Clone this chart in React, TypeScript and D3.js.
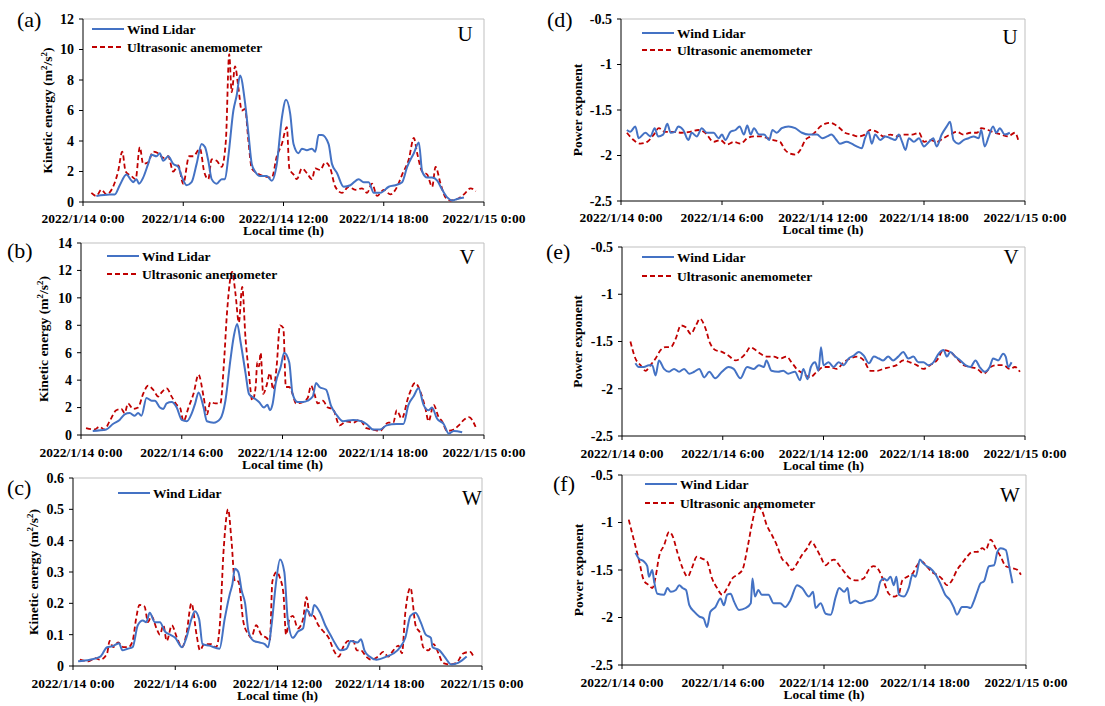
import * as d3 from 'd3';
import React from 'react';

// Series as [hour of 2022/1/14, value] pairs.
const uKeLidar: [number, number][] = [
    [0.8, 0.4], [1.6, 0.5], [1.9, 0.5], [2.2, 1.1], [2.6, 1.8], [2.9, 1.4], [3.0, 1.3], [3.2, 1.5], [3.35, 1.2],
    [3.6, 1.6], [3.9, 2.5], [4.1, 3.1], [4.4, 3.0], [4.6, 3.2], [4.8, 2.7], [5.1, 3.0], [5.4, 2.5], [5.7, 2.3],
    [5.9, 1.7], [6.2, 1.1], [6.5, 1.3], [6.8, 2.5], [7.1, 3.8], [7.3, 3.6], [7.5, 2.7], [7.7, 1.5], [8.0, 1.2],
    [8.3, 1.5], [8.5, 1.5], [8.7, 3.0], [9.0, 6.0], [9.2, 7.0], [9.4, 8.3], [9.7, 6.5], [9.9, 4.5], [10.1, 2.5],
    [10.3, 2.0], [10.6, 1.7], [11.0, 1.7], [11.3, 1.4], [11.6, 2.5], [11.9, 5.5], [12.15, 6.7], [12.4, 5.8],
    [12.6, 3.8], [12.9, 3.2], [13.1, 3.5], [13.4, 3.4], [13.7, 3.5], [13.9, 3.3], [14.1, 4.4], [14.3, 4.4],
    [14.7, 3.8], [14.9, 2.5], [15.2, 1.9], [15.6, 1.0], [16.0, 1.1], [16.5, 1.5], [16.8, 1.3], [17.1, 1.3],
    [17.4, 0.6], [17.8, 0.6], [18.3, 1.0], [18.7, 1.1], [19.1, 1.3], [19.4, 2.3], [19.8, 3.2], [20.1, 3.9],
    [20.3, 2.0], [20.6, 1.6], [20.9, 1.6], [21.2, 1.4], [21.5, 0.8], [21.8, 0.3], [22.1, 0.1], [22.4, 0.2], [22.8, 0.3],
];
const uKeSonic: [number, number][] = [
    [0.5, 0.6], [0.8, 0.4], [1.1, 0.8], [1.4, 0.5], [1.8, 1.0], [2.1, 2.0], [2.35, 3.3], [2.55, 2.0], [2.9, 1.7],
    [3.15, 1.5], [3.4, 3.6], [3.6, 2.5], [3.9, 2.6], [4.2, 3.3], [4.5, 3.2], [4.8, 2.9], [5.1, 3.0], [5.4, 2.0],
    [5.7, 2.4], [6.0, 1.2], [6.35, 3.0], [6.6, 3.0], [7.0, 3.5], [7.25, 2.0], [7.5, 1.5], [7.7, 2.8], [8.0, 2.7],
    [8.3, 2.3], [8.55, 4.0], [8.75, 9.7], [8.9, 7.2], [9.1, 8.9], [9.3, 7.5], [9.5, 6.0], [9.7, 6.1], [9.9, 4.0],
    [10.1, 2.2], [10.4, 1.9], [10.8, 1.7], [11.3, 1.6], [11.6, 3.0], [11.9, 3.8], [12.2, 4.9], [12.35, 2.2],
    [12.6, 1.8], [12.8, 1.5], [13.1, 2.2], [13.4, 1.9], [13.7, 1.5], [13.9, 2.2], [14.2, 2.1], [14.5, 2.6],
    [14.8, 2.2], [15.1, 1.0], [15.5, 0.6], [15.9, 1.0], [16.3, 0.8], [16.7, 0.9], [17.0, 0.6], [17.3, 1.2],
    [17.6, 0.4], [18.0, 0.8], [18.4, 0.5], [18.8, 1.0], [19.1, 1.8], [19.5, 2.8], [19.8, 4.2], [20.0, 3.2],
    [20.3, 2.0], [20.6, 1.8], [20.9, 1.0], [21.1, 2.3], [21.4, 1.2], [21.7, 0.3], [22.0, 0.1], [22.4, 0.2],
    [22.8, 0.5], [23.2, 0.9], [23.5, 0.7],
];
const vKeLidar: [number, number][] = [
    [0.7, 0.3], [1.5, 0.4], [1.9, 0.8], [2.3, 1.1], [2.6, 1.5], [2.9, 1.6], [3.2, 1.4], [3.4, 1.6], [3.6, 1.4],
    [3.9, 2.7], [4.2, 2.5], [4.4, 2.5], [4.7, 2.0], [4.9, 1.9], [5.1, 2.3], [5.4, 2.4], [5.7, 2.0], [6.0, 1.1],
    [6.3, 1.0], [6.6, 1.6], [6.8, 2.3], [7.0, 3.1], [7.3, 2.0], [7.5, 1.0], [7.9, 0.9], [8.3, 1.2], [8.6, 2.5],
    [8.9, 5.5], [9.1, 7.2], [9.3, 8.1], [9.5, 6.8], [9.8, 4.5], [10.0, 3.0], [10.3, 2.7], [10.6, 2.4], [10.9, 2.0],
    [11.1, 2.2], [11.25, 1.8], [11.4, 2.2], [11.6, 3.8], [11.9, 5.0], [12.1, 6.0], [12.4, 5.3], [12.6, 3.0],
    [12.9, 2.4], [13.2, 2.4], [13.5, 2.5], [13.8, 2.8], [14.0, 3.8], [14.2, 3.5], [14.6, 3.3], [14.9, 2.1],
    [15.2, 1.5], [15.6, 1.0], [16.2, 1.1], [16.7, 1.0], [17.0, 0.8], [17.4, 0.4], [17.8, 0.4], [18.2, 0.7],
    [18.8, 0.8], [19.2, 0.8], [19.5, 2.2], [19.8, 2.8], [20.1, 3.4], [20.4, 2.2], [20.7, 1.8], [20.9, 2.0],
    [21.2, 1.2], [21.6, 0.8], [21.9, 0.1], [22.2, 0.3], [22.7, 0.2],
];
const vKeSonic: [number, number][] = [
    [0.3, 0.5], [0.8, 0.4], [1.1, 0.6], [1.4, 0.4], [1.7, 1.0], [2.1, 1.8], [2.4, 1.9], [2.6, 1.6], [2.8, 2.3],
    [3.1, 1.9], [3.4, 2.0], [3.7, 3.0], [4.0, 3.6], [4.3, 3.3], [4.6, 2.8], [4.8, 3.1], [5.1, 3.4], [5.4, 2.8],
    [5.7, 2.2], [5.9, 2.0], [6.1, 1.0], [6.4, 2.0], [6.7, 3.0], [7.0, 4.4], [7.3, 2.8], [7.5, 1.5], [7.7, 2.4],
    [8.0, 2.3], [8.3, 2.3], [8.5, 5.0], [8.7, 9.0], [9.0, 11.9], [9.2, 10.3], [9.4, 8.2], [9.6, 10.8], [9.8, 7.0],
    [10.0, 4.5], [10.2, 2.5], [10.4, 3.5], [10.5, 5.3], [10.6, 5.0], [10.7, 6.0], [10.85, 3.0], [11.05, 3.6],
    [11.25, 4.5], [11.45, 3.3], [11.65, 5.0], [11.85, 8.0], [12.05, 7.8], [12.2, 3.5], [12.4, 3.5], [12.6, 3.0],
    [12.8, 2.3], [13.2, 2.4], [13.5, 2.7], [13.7, 3.6], [13.9, 3.0], [14.1, 2.3], [14.4, 2.5], [14.7, 2.0],
    [15.0, 1.9], [15.4, 0.7], [15.8, 1.0], [16.2, 0.9], [16.6, 1.1], [17.0, 0.5], [17.4, 0.4], [17.8, 0.3],
    [18.3, 0.9], [18.6, 0.9], [18.8, 1.8], [19.1, 1.2], [19.5, 2.8], [19.9, 3.8], [20.2, 3.2], [20.5, 2.0],
    [20.7, 1.0], [21.0, 2.2], [21.3, 1.3], [21.5, 1.0], [21.8, 0.3], [22.2, 0.4], [22.5, 0.7], [22.8, 1.1],
    [23.1, 1.3], [23.5, 0.6],
];
const wKeLidar: [number, number][] = [
    [0.3, 0.015], [1.0, 0.02], [1.6, 0.03], [2.0, 0.06], [2.3, 0.063], [2.7, 0.073], [2.9, 0.05], [3.2, 0.055],
    [3.5, 0.06], [3.8, 0.13], [4.1, 0.145], [4.3, 0.14], [4.5, 0.17], [4.8, 0.14], [5.1, 0.14], [5.4, 0.11],
    [5.7, 0.1], [6.0, 0.09], [6.4, 0.06], [6.65, 0.09], [6.95, 0.15], [7.15, 0.175], [7.4, 0.15], [7.6, 0.07],
    [8.0, 0.065], [8.6, 0.055], [8.9, 0.15], [9.2, 0.23], [9.35, 0.26], [9.5, 0.31], [9.7, 0.3], [9.9, 0.24],
    [10.1, 0.2], [10.3, 0.11], [10.6, 0.08], [10.95, 0.075], [11.25, 0.07], [11.45, 0.06], [11.65, 0.13],
    [11.9, 0.26], [12.15, 0.34], [12.4, 0.3], [12.6, 0.15], [12.9, 0.09], [13.2, 0.11], [13.5, 0.12], [13.7, 0.18],
    [14.0, 0.16], [14.15, 0.195], [14.5, 0.17], [14.8, 0.13], [15.1, 0.1], [15.4, 0.07], [15.7, 0.05],
    [16.05, 0.055], [16.3, 0.08], [16.7, 0.075], [16.9, 0.085], [17.1, 0.05], [17.4, 0.03], [17.8, 0.02],
    [18.4, 0.03], [18.8, 0.04], [19.2, 0.06], [19.5, 0.09], [19.8, 0.16], [20.1, 0.17], [20.4, 0.14], [20.7, 0.1],
    [21.0, 0.09], [21.1, 0.06], [21.5, 0.05], [21.8, 0.03], [22.2, 0.005], [22.6, 0.01], [23.1, 0.03],
];
const wKeSonic: [number, number][] = [
    [0.4, 0.02], [0.9, 0.015], [1.3, 0.025], [1.6, 0.02], [2.0, 0.04], [2.15, 0.08], [2.35, 0.06], [2.65, 0.075],
    [2.95, 0.06], [3.25, 0.06], [3.5, 0.08], [3.7, 0.15], [3.9, 0.195], [4.2, 0.19], [4.4, 0.14], [4.6, 0.16],
    [4.9, 0.12], [5.1, 0.1], [5.3, 0.13], [5.5, 0.08], [5.8, 0.13], [6.1, 0.09], [6.4, 0.06], [6.65, 0.1],
    [6.95, 0.2], [7.25, 0.1], [7.45, 0.05], [7.7, 0.07], [8.1, 0.07], [8.4, 0.06], [8.6, 0.12], [8.85, 0.38],
    [9.1, 0.5], [9.3, 0.4], [9.5, 0.27], [9.7, 0.27], [10.0, 0.14], [10.3, 0.1], [10.45, 0.09], [10.75, 0.13],
    [11.05, 0.1], [11.35, 0.09], [11.55, 0.08], [11.7, 0.27], [11.95, 0.3], [12.15, 0.28], [12.35, 0.23],
    [12.5, 0.1], [12.7, 0.15], [12.9, 0.16], [13.2, 0.12], [13.5, 0.15], [13.7, 0.22], [13.9, 0.16], [14.1, 0.16],
    [14.4, 0.13], [14.7, 0.11], [15.0, 0.09], [15.3, 0.05], [15.6, 0.03], [15.85, 0.06], [16.15, 0.08],
    [16.45, 0.08], [16.65, 0.05], [16.9, 0.05], [17.2, 0.03], [17.5, 0.02], [17.9, 0.03], [18.2, 0.045],
    [18.5, 0.03], [18.8, 0.05], [19.1, 0.065], [19.3, 0.04], [19.5, 0.17], [19.8, 0.25], [20.1, 0.13],
    [20.4, 0.1], [20.55, 0.06], [20.85, 0.05], [21.15, 0.07], [21.45, 0.04], [21.7, 0.01], [22.1, 0.005],
    [22.5, 0.01], [22.9, 0.04], [23.3, 0.045], [23.5, 0.03],
];
const uExpLidar: [number, number][] = [
    [0.35, -1.72], [0.55, -1.74], [0.85, -1.68], [1.05, -1.81], [1.45, -1.75], [1.75, -1.79], [2.0, -1.7],
    [2.2, -1.79], [2.5, -1.77], [2.75, -1.65], [2.95, -1.75], [3.2, -1.74], [3.4, -1.68], [3.7, -1.72],
    [4.0, -1.83], [4.2, -1.75], [4.5, -1.79], [4.8, -1.7], [5.1, -1.75], [5.5, -1.75], [5.8, -1.81], [6.0, -1.77],
    [6.2, -1.83], [6.5, -1.74], [6.8, -1.72], [7.05, -1.68], [7.3, -1.77], [7.5, -1.67], [7.7, -1.77],
    [7.9, -1.7], [8.2, -1.77], [8.5, -1.77], [8.8, -1.83], [9.0, -1.72], [9.25, -1.75], [9.55, -1.7],
    [9.95, -1.68], [10.35, -1.7], [10.75, -1.75], [11.15, -1.77], [11.65, -1.77], [11.95, -1.81], [12.25, -1.79],
    [12.5, -1.77], [12.8, -1.83], [13.0, -1.87], [13.4, -1.85], [13.7, -1.87], [14.0, -1.9], [14.3, -1.92],
    [14.5, -1.81], [14.7, -1.74], [14.9, -1.87], [15.1, -1.77], [15.4, -1.83], [15.7, -1.79], [16.0, -1.81],
    [16.3, -1.83], [16.5, -1.77], [16.7, -1.85], [16.9, -1.94], [17.1, -1.81], [17.4, -1.85], [17.7, -1.81],
    [18.0, -1.9], [18.3, -1.85], [18.55, -1.81], [18.75, -1.9], [19.05, -1.77], [19.35, -1.68], [19.55, -1.63],
    [19.75, -1.83], [20.05, -1.87], [20.35, -1.83], [20.65, -1.81], [20.95, -1.79], [21.25, -1.81],
    [21.4, -1.72], [21.6, -1.9], [21.85, -1.79], [22.1, -1.68], [22.3, -1.75], [22.5, -1.7], [22.8, -1.77],
    [23.1, -1.75],
];
const uExpSonic: [number, number][] = [
    [0.35, -1.75], [0.75, -1.83], [1.15, -1.87], [1.55, -1.85], [1.95, -1.77], [2.25, -1.7], [2.6, -1.74],
    [3.1, -1.74], [3.6, -1.75], [4.1, -1.74], [4.6, -1.72], [5.0, -1.75], [5.5, -1.85], [5.9, -1.83],
    [6.3, -1.88], [6.7, -1.85], [7.1, -1.87], [7.5, -1.81], [7.9, -1.79], [8.3, -1.79], [8.7, -1.81],
    [9.05, -1.83], [9.45, -1.85], [9.75, -1.94], [10.05, -1.98], [10.35, -1.99], [10.65, -1.94], [10.95, -1.83],
    [11.25, -1.79], [11.55, -1.74], [11.85, -1.68], [12.15, -1.65], [12.4, -1.64], [12.7, -1.66], [13.0, -1.7],
    [13.3, -1.75], [13.7, -1.77], [14.1, -1.79], [14.5, -1.77], [14.8, -1.72], [15.2, -1.74], [15.6, -1.79],
    [16.0, -1.77], [16.4, -1.79], [16.8, -1.77], [17.3, -1.77], [17.7, -1.75], [18.0, -1.85], [18.4, -1.83],
    [18.75, -1.85], [19.15, -1.81], [19.55, -1.77], [19.95, -1.74], [20.35, -1.77], [20.75, -1.75],
    [21.15, -1.75], [21.4, -1.7], [21.8, -1.72], [22.2, -1.75], [22.6, -1.77], [23.0, -1.79], [23.4, -1.75],
    [23.6, -1.83],
];
const vExpLidar: [number, number][] = [
    [0.8, -1.73], [1.0, -1.77], [1.3, -1.77], [1.6, -1.75], [1.8, -1.75], [2.0, -1.86], [2.2, -1.7], [2.5, -1.79],
    [2.8, -1.82], [3.1, -1.79], [3.4, -1.82], [3.7, -1.79], [4.0, -1.84], [4.3, -1.82], [4.6, -1.79],
    [4.9, -1.88], [5.2, -1.82], [5.55, -1.89], [5.95, -1.82], [6.35, -1.77], [6.65, -1.79], [7.05, -1.89],
    [7.45, -1.77], [7.85, -1.79], [8.15, -1.75], [8.45, -1.77], [8.6, -1.7], [8.9, -1.81], [9.3, -1.82],
    [9.6, -1.81], [9.9, -1.84], [10.3, -1.82], [10.6, -1.91], [10.8, -1.79], [11.05, -1.9], [11.25, -1.77],
    [11.5, -1.72], [11.7, -1.81], [11.85, -1.56], [12.0, -1.75], [12.3, -1.72], [12.6, -1.77], [12.9, -1.72],
    [13.2, -1.75], [13.5, -1.68], [13.8, -1.65], [14.1, -1.61], [14.4, -1.65], [14.7, -1.73], [15.0, -1.66],
    [15.3, -1.68], [15.55, -1.7], [15.85, -1.66], [16.15, -1.7], [16.45, -1.66], [16.75, -1.61], [17.05, -1.68],
    [17.35, -1.66], [17.65, -1.72], [17.95, -1.72], [18.25, -1.75], [18.55, -1.72], [18.85, -1.63],
    [19.15, -1.59], [19.35, -1.66], [19.55, -1.61], [19.85, -1.66], [20.15, -1.7], [20.45, -1.75],
    [20.75, -1.77], [21.05, -1.7], [21.3, -1.77], [21.6, -1.82], [21.9, -1.77], [22.1, -1.68], [22.4, -1.7],
    [22.7, -1.63], [22.85, -1.66], [23.0, -1.77], [23.2, -1.72],
];
const vExpSonic: [number, number][] = [
    [0.5, -1.5], [0.8, -1.68], [1.1, -1.75], [1.4, -1.81], [1.7, -1.75], [2.0, -1.68], [2.3, -1.59],
    [2.6, -1.56], [2.9, -1.56], [3.2, -1.47], [3.5, -1.33], [3.8, -1.35], [4.1, -1.42], [4.4, -1.33],
    [4.65, -1.26], [4.95, -1.35], [5.25, -1.52], [5.55, -1.59], [5.95, -1.61], [6.35, -1.65], [6.75, -1.7],
    [7.05, -1.68], [7.35, -1.63], [7.65, -1.56], [7.95, -1.59], [8.25, -1.63], [8.65, -1.66], [9.05, -1.66],
    [9.4, -1.68], [9.8, -1.66], [10.1, -1.72], [10.4, -1.79], [10.8, -1.84], [11.2, -1.88], [11.6, -1.82],
    [12.0, -1.77], [12.4, -1.77], [12.8, -1.79], [13.2, -1.72], [13.6, -1.68], [14.0, -1.66], [14.4, -1.7],
    [14.8, -1.81], [15.2, -1.81], [15.55, -1.79], [16.0, -1.77], [16.35, -1.75], [16.75, -1.7], [17.15, -1.72],
    [17.55, -1.75], [17.95, -1.79], [18.35, -1.75], [18.75, -1.7], [19.15, -1.59], [19.55, -1.61],
    [19.95, -1.68], [20.35, -1.75], [20.75, -1.77], [21.15, -1.79], [21.55, -1.84], [21.95, -1.77],
    [22.3, -1.75], [22.7, -1.75], [23.1, -1.79], [23.4, -1.77], [23.7, -1.82],
];
const wExpLidar: [number, number][] = [
    [0.8, -1.32], [1.0, -1.38], [1.3, -1.41], [1.5, -1.46], [1.6, -1.57], [1.8, -1.5], [1.9, -1.61],
    [2.1, -1.75], [2.5, -1.76], [2.7, -1.69], [2.9, -1.73], [3.2, -1.71], [3.4, -1.66], [3.6, -1.69],
    [3.8, -1.71], [4.0, -1.87], [4.3, -1.94], [4.6, -1.99], [4.85, -2.01], [5.05, -2.1], [5.25, -1.94],
    [5.55, -1.89], [5.85, -1.8], [6.05, -1.87], [6.25, -1.76], [6.45, -1.75], [6.65, -1.83], [6.95, -1.92],
    [7.35, -1.9], [7.65, -1.85], [7.75, -1.59], [7.9, -1.78], [8.1, -1.71], [8.3, -1.76], [8.7, -1.76],
    [9.0, -1.85], [9.4, -1.85], [9.7, -1.89], [10.0, -1.82], [10.4, -1.66], [10.7, -1.69], [11.1, -1.78],
    [11.35, -1.73], [11.5, -1.9], [11.8, -1.85], [12.1, -1.96], [12.4, -1.97], [12.7, -1.78], [12.9, -1.69],
    [13.2, -1.73], [13.4, -1.69], [13.55, -1.85], [13.85, -1.82], [14.15, -1.85], [14.55, -1.83],
    [14.85, -1.82], [15.15, -1.76], [15.35, -1.62], [15.55, -1.59], [15.75, -1.61], [15.95, -1.57],
    [16.15, -1.66], [16.3, -1.57], [16.45, -1.76], [16.75, -1.78], [17.05, -1.68], [17.25, -1.55],
    [17.45, -1.57], [17.7, -1.39], [17.9, -1.43], [18.1, -1.46], [18.3, -1.48], [18.6, -1.54], [18.9, -1.64],
    [19.2, -1.76], [19.5, -1.82], [19.7, -1.89], [19.9, -1.97], [20.2, -1.89], [20.5, -1.89], [20.7, -1.9],
    [20.9, -1.83], [21.1, -1.73], [21.3, -1.64], [21.5, -1.62], [21.8, -1.46], [22.1, -1.45], [22.3, -1.31],
    [22.5, -1.27], [22.8, -1.29], [23.0, -1.46], [23.2, -1.64],
];
const wExpSonic: [number, number][] = [
    [0.4, -0.97], [0.7, -1.18], [1.0, -1.39], [1.3, -1.61], [1.6, -1.66], [1.8, -1.69], [2.0, -1.57],
    [2.2, -1.36], [2.5, -1.24], [2.8, -1.1], [3.0, -1.14], [3.3, -1.32], [3.6, -1.48], [3.9, -1.57],
    [4.15, -1.48], [4.45, -1.36], [4.75, -1.38], [5.05, -1.41], [5.35, -1.59], [5.65, -1.69], [5.95, -1.76],
    [6.25, -1.69], [6.55, -1.59], [6.85, -1.55], [7.15, -1.5], [7.45, -1.27], [7.75, -0.99], [8.0, -0.83],
    [8.3, -0.87], [8.6, -1.03], [8.9, -1.13], [9.2, -1.24], [9.5, -1.38], [9.8, -1.43], [10.1, -1.5],
    [10.4, -1.43], [10.7, -1.34], [11.0, -1.27], [11.25, -1.2], [11.5, -1.26], [11.8, -1.36], [12.1, -1.45],
    [12.35, -1.41], [12.6, -1.39], [12.9, -1.45], [13.2, -1.52], [13.55, -1.59], [13.95, -1.61], [14.35, -1.59],
    [14.65, -1.5], [14.95, -1.46], [15.25, -1.5], [15.55, -1.62], [15.85, -1.75], [16.15, -1.78], [16.45, -1.75],
    [16.65, -1.61], [16.95, -1.57], [17.25, -1.54], [17.5, -1.46], [17.8, -1.41], [18.1, -1.46], [18.4, -1.52],
    [18.7, -1.55], [19.0, -1.59], [19.3, -1.66], [19.6, -1.61], [19.9, -1.5], [20.2, -1.43], [20.5, -1.36],
    [20.8, -1.31], [21.1, -1.31], [21.4, -1.27], [21.6, -1.29], [21.9, -1.18], [22.2, -1.27], [22.5, -1.36],
    [22.8, -1.46], [23.2, -1.48], [23.5, -1.5], [23.7, -1.55],
];

const keTicksUV = [0, 2, 4, 6, 8, 10, 12];
const keTicksV = [0, 2, 4, 6, 8, 10, 12, 14];
const keTicksW = [0, 0.1, 0.2, 0.3, 0.4, 0.5, 0.6];
const expTicks = [-2.5, -2, -1.5, -1, -0.5];
const timeTickHours = [0, 6, 12, 18, 24];

const LIDAR = 'Wind Lidar';
const SONIC = 'Ultrasonic anemometer';

const BLUE = '#4472c4';
const RED = '#c00000';
const FONT = '"Liberation Serif", "Times New Roman", serif';

const T0 = new Date(2022, 0, 14, 0, 0);
const toDate = (h: number) => new Date(T0.getTime() + h * 3600000);
const fmtTime = (d: Date) =>
    `${d.getFullYear()}/${d.getMonth() + 1}/${d.getDate()} ${d.getHours()}:${String(d.getMinutes()).padStart(2, '0')}`;

type Panel = {
    tag: string;
    comp: string;
    left: number;
    right: number;
    top: number;
    bottom: number;
    yTicks: number[];
    lidar: [number, number][];
    sonic: [number, number][];
    showSonicLegend: boolean;
    kinetic: boolean;
    titleX: number;
    tagY: number;
    tagX: number;
    legX: number;
    legY: number;
    legGap: number;
    compX: number;
    compY: number;
    tickLabelDy: number;
};

const panels: Panel[] = [
    { tag: '(a)', comp: 'U', left: 83, right: 484, top: 19, bottom: 202, yTicks: keTicksUV, lidar: uKeLidar, sonic: uKeSonic,
      showSonicLegend: true, kinetic: true, titleX: 52, tagX: 17, tagY: 27, legX: 92, legY: 29, legGap: 18, compX: 465, compY: 41, tickLabelDy: 20.5 },
    { tag: '(b)', comp: 'V', left: 81, right: 484, top: 243, bottom: 435, yTicks: keTicksV, lidar: vKeLidar, sonic: vKeSonic,
      showSonicLegend: true, kinetic: true, titleX: 48, tagX: 7, tagY: 258, legX: 107, legY: 256, legGap: 18, compX: 467, compY: 264, tickLabelDy: 22 },
    { tag: '(c)', comp: 'W', left: 73, right: 482, top: 478, bottom: 666, yTicks: keTicksW, lidar: wKeLidar, sonic: wKeSonic,
      showSonicLegend: false, kinetic: true, titleX: 38, tagX: 7, tagY: 495, legX: 118, legY: 493, legGap: 18, compX: 472, compY: 505, tickLabelDy: 21.5 },
    { tag: '(d)', comp: 'U', left: 621, right: 1025, top: 19, bottom: 201, yTicks: expTicks, lidar: uExpLidar, sonic: uExpSonic,
      showSonicLegend: true, kinetic: false, titleX: 582, tagX: 547, tagY: 27, legX: 642, legY: 33, legGap: 17, compX: 1010, compY: 44, tickLabelDy: 21 },
    { tag: '(e)', comp: 'V', left: 622, right: 1025, top: 247, bottom: 436, yTicks: expTicks, lidar: vExpLidar, sonic: vExpSonic,
      showSonicLegend: true, kinetic: false, titleX: 582, tagX: 546, tagY: 259, legX: 642, legY: 257, legGap: 19, compX: 1011, compY: 264, tickLabelDy: 22 },
    { tag: '(f)', comp: 'W', left: 622, right: 1026, top: 475, bottom: 665, yTicks: expTicks, lidar: wExpLidar, sonic: wExpSonic,
      showSonicLegend: true, kinetic: false, titleX: 583, tagX: 553, tagY: 491, legX: 645, legY: 484, legGap: 19, compX: 1010, compY: 502, tickLabelDy: 22 },
];

const fmtY = (v: number) => String(+v.toFixed(1));

const ChartPanel = ({ p }: { p: Panel }): React.ReactElement => {
    const x = d3.scaleTime().domain([toDate(0), toDate(24)]).range([p.left, p.right]);
    const y = d3
        .scaleLinear()
        .domain([p.yTicks[0], p.yTicks[p.yTicks.length - 1]])
        .range([p.bottom, p.top]);
    const line = d3
        .line<[number, number]>()
        .x((d) => x(toDate(d[0])))
        .y((d) => y(d[1]))
        .curve(d3.curveMonotoneX);
    const cx = (p.left + p.right) / 2;
    const cy = (p.top + p.bottom) / 2;
    const timeTicks = timeTickHours.map(toDate);

    return (
        <g fontFamily={FONT}>
            {/* frame */}
            <path d={`M${p.left},${p.top}H${p.right}V${p.bottom}`} fill="none" stroke="#bfbfbf" strokeWidth={1} />
            <line x1={p.left} x2={p.left} y1={p.top} y2={p.bottom} stroke="#000" strokeWidth={1} />
            <line x1={p.left} x2={p.right} y1={p.bottom} y2={p.bottom} stroke="#000" strokeWidth={1} />

            {/* y ticks */}
            {p.yTicks.map((t) => (
                <g key={t}>
                    <line x1={p.left - 4} x2={p.left} y1={y(t)} y2={y(t)} stroke="#000" />
                    <text x={p.left - 9} y={y(t)} dy="0.35em" textAnchor="end" fontSize={14} fontWeight="bold">
                        {fmtY(t)}
                    </text>
                </g>
            ))}

            {/* x ticks */}
            {timeTicks.map((t) => (
                <g key={t.getTime()}>
                    <line x1={x(t)} x2={x(t)} y1={p.bottom} y2={p.bottom + 4} stroke="#000" />
                    <text x={x(t)} y={p.bottom + p.tickLabelDy} textAnchor="middle" fontSize={13.5} fontWeight="bold">
                        {fmtTime(t)}
                    </text>
                </g>
            ))}

            <text x={cx} y={p.bottom + p.tickLabelDy + 12} textAnchor="middle" fontSize={13.5} fontWeight="bold">
                Local time (h)
            </text>

            {/* y title */}
            <text
                transform={`translate(${p.titleX},${cy}) rotate(-90)`}
                textAnchor="middle"
                fontSize={13.5}
                fontWeight="bold"
            >
                {p.kinetic ? (
                    <>
                        Kinetic energy (m<tspan fontSize={9} dy={-5}>2</tspan>
                        <tspan dy={5}>/s</tspan>
                        <tspan fontSize={9} dy={-5}>2</tspan>
                        <tspan dy={5}>)</tspan>
                    </>
                ) : (
                    'Power exponent'
                )}
            </text>

            {/* series */}
            <path d={line(p.sonic) ?? ''} fill="none" stroke={RED} strokeWidth={1.8} strokeDasharray="5,3" />
            <path d={line(p.lidar) ?? ''} fill="none" stroke={BLUE} strokeWidth={2} />

            {/* legend */}
            <line x1={p.legX} x2={p.legX + 32} y1={p.legY} y2={p.legY} stroke={BLUE} strokeWidth={2} />
            <text x={p.legX + 35} y={p.legY} dy="0.35em" fontSize={13.5} fontWeight="bold">
                {LIDAR}
            </text>
            {p.showSonicLegend && (
                <>
                    <line
                        x1={p.legX}
                        x2={p.legX + 32}
                        y1={p.legY + p.legGap}
                        y2={p.legY + p.legGap}
                        stroke={RED}
                        strokeWidth={1.8}
                        strokeDasharray="5,3"
                    />
                    <text x={p.legX + 35} y={p.legY + p.legGap} dy="0.35em" fontSize={13.5} fontWeight="bold">
                        {SONIC}
                    </text>
                </>
            )}

            <text x={p.compX} y={p.compY} textAnchor="middle" fontSize={21}>
                {p.comp}
            </text>
            <text x={p.tagX} y={p.tagY} fontSize={22}>
                {p.tag}
            </text>
        </g>
    );
};

const App = (): React.ReactElement => {
    return (
        <svg
            width={1105}
            height={706}
            style={{ position: 'absolute', left: 0, top: 0, background: '#fff' }}
        >
            <rect width={1105} height={706} fill="#fff" />
            {panels.map((p) => (
                <ChartPanel key={p.tag} p={p} />
            ))}
        </svg>
    );
};

export default App;
